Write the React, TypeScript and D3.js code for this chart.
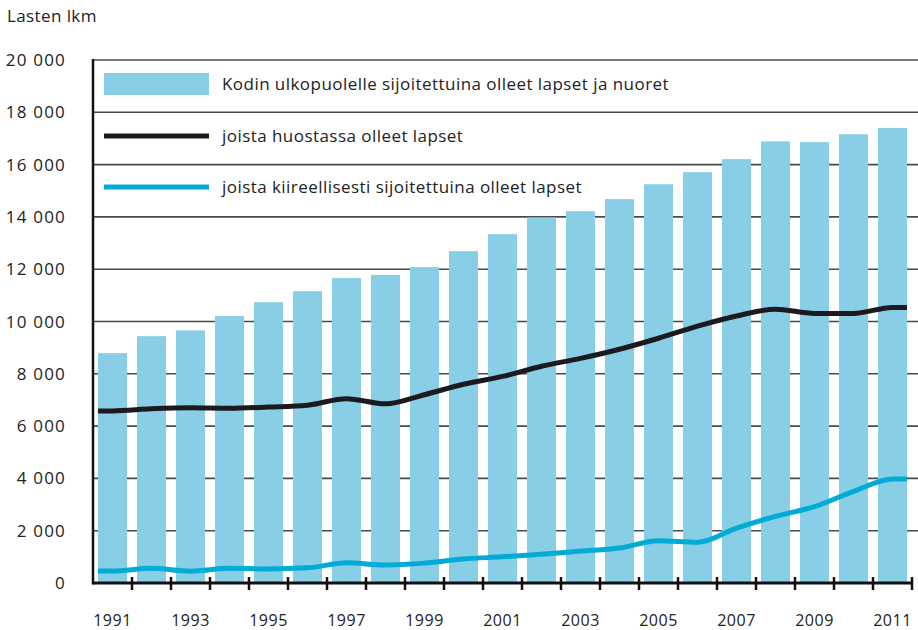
import { useEffect, useRef } from 'react';
import * as d3 from 'd3';

const years = d3.range(1991, 2012);
// Kodin ulkopuolelle sijoitettuina olleet lapset ja nuoret
const totals = [8790, 9440, 9660, 10210, 10740, 11160, 11660, 11780, 12080, 12690, 13340, 13980, 14220, 14680, 15250, 15710, 16210, 16890, 16860, 17160, 17400];
// joista huostassa olleet lapset
const custody = [6580, 6660, 6700, 6680, 6730, 6800, 7050, 6850, 7200, 7600, 7900, 8290, 8590, 8940, 9360, 9820, 10210, 10470, 10310, 10310, 10540];
// joista kiireellisesti sijoitettuina olleet lapset
const urgent = [460, 560, 450, 560, 540, 580, 770, 690, 760, 920, 1000, 1100, 1220, 1340, 1620, 1560, 2100, 2550, 2920, 3500, 3980];
const yTicks = d3.range(0, 20001, 2000);
const legendLabels = [
  'Kodin ulkopuolelle sijoitettuina olleet lapset ja nuoret',
  'joista huostassa olleet lapset',
  'joista kiireellisesti sijoitettuina olleet lapset',
];

const barColor = '#87cee6';
const custodyColor = '#1c1a1f';
const urgentColor = '#00acd6';
const font = '"Open Sans", sans-serif';

export default function App() {
  const ref = useRef<SVGSVGElement>(null);

  useEffect(() => {
    const svg = d3.select(ref.current);
    svg.selectAll('*').remove();

    const left = 93, right = 912, top = 60, bottom = 583;

    const x = d3.scaleBand<number>()
      .domain(years)
      .range([left, right])
      .paddingInner(10 / 39)
      .paddingOuter(5 / 39);
    const y = d3.scaleLinear().domain([0, 20000]).range([bottom, top]);
    const fmt = d3.formatLocale({ decimal: ',', thousands: ' ', grouping: [3], currency: ['', ''] }).format(',');

    const bw = x.bandwidth();
    const gap = x.step() - bw;

    // grid
    svg.append('g')
      .selectAll('line')
      .data(yTicks.filter(d => d > 0))
      .enter()
      .append('line')
      .attr('x1', left)
      .attr('x2', 918)
      .attr('y1', d => y(d))
      .attr('y2', d => y(d))
      .attr('stroke', '#4a4a4a')
      .attr('stroke-width', 1.6);

    // bars
    svg.append('g')
      .selectAll('rect')
      .data(years)
      .enter()
      .append('rect')
      .attr('x', d => x(d)!)
      .attr('width', bw)
      .attr('y', (d, i) => y(totals[i]))
      .attr('height', (d, i) => bottom - y(totals[i]))
      .attr('fill', barColor);

    // lines, stretched to the outer bar edges
    const drawLine = (vals: number[], color: string) => {
      const pts: [number, number][] = years.map((yr, i) => [x(yr)! + bw / 2, y(vals[i])]);
      pts.unshift([x(years[0])!, y(vals[0])]);
      pts.push([x(years[years.length - 1])! + bw, y(vals[vals.length - 1])]);
      svg.append('path')
        .attr('d', d3.line().curve(d3.curveMonotoneX)(pts)!)
        .attr('fill', 'none')
        .attr('stroke', color)
        .attr('stroke-width', 5)
        .attr('stroke-linejoin', 'round');
    };
    drawLine(custody, custodyColor);
    drawLine(urgent, urgentColor);

    // axes
    svg.append('line')
      .attr('x1', left).attr('x2', left)
      .attr('y1', top - 1).attr('y2', bottom + 1.5)
      .attr('stroke', '#111').attr('stroke-width', 2.5);
    svg.append('line')
      .attr('x1', left).attr('x2', right)
      .attr('y1', bottom).attr('y2', bottom)
      .attr('stroke', '#111').attr('stroke-width', 3);

    const tickX = years.slice(1).map(yr => x(yr)! - gap / 2).concat([right]);
    svg.append('g')
      .selectAll('line')
      .data(tickX)
      .enter()
      .append('line')
      .attr('x1', d => d).attr('x2', d => d)
      .attr('y1', bottom - 6).attr('y2', bottom + 7)
      .attr('stroke', '#111').attr('stroke-width', 2.5);

    svg.append('g')
      .selectAll('text')
      .data(yTicks)
      .enter()
      .append('text')
      .attr('x', 66)
      .attr('y', d => y(d) + 6)
      .attr('text-anchor', 'end')
      .attr('font-family', font)
      .attr('font-size', 17)
      .attr('letter-spacing', 1.2)
      .attr('fill', '#222')
      .text(d => fmt(d));

    svg.append('g')
      .selectAll('text')
      .data(years.filter(yr => yr % 2 === 1))
      .enter()
      .append('text')
      .attr('x', d => x(d)! + bw / 2)
      .attr('y', 626)
      .attr('text-anchor', 'middle')
      .attr('font-family', font)
      .attr('font-size', 16)
      .attr('letter-spacing', 0.5)
      .attr('fill', '#222')
      .text(d => d);

    svg.append('text')
      .attr('x', 7).attr('y', 22)
      .attr('font-family', font)
      .attr('font-size', 17)
      .attr('letter-spacing', 0.4)
      .attr('fill', '#222')
      .text('Lasten lkm');

    // legend
    const lg = svg.append('g');
    const rowY = [84, 136, 187];
    lg.append('rect')
      .attr('x', 104).attr('y', rowY[0] - 11)
      .attr('width', 105).attr('height', 22)
      .attr('fill', barColor);
    lg.append('line')
      .attr('x1', 104).attr('x2', 209)
      .attr('y1', rowY[1]).attr('y2', rowY[1])
      .attr('stroke', custodyColor).attr('stroke-width', 5);
    lg.append('line')
      .attr('x1', 104).attr('x2', 209)
      .attr('y1', rowY[2]).attr('y2', rowY[2])
      .attr('stroke', urgentColor).attr('stroke-width', 5);
    lg.selectAll('text')
      .data(legendLabels)
      .enter()
      .append('text')
      .attr('x', 222)
      .attr('y', (d, i) => rowY[i] + 6)
      .attr('font-family', font)
      .attr('font-size', 17)
      .attr('letter-spacing', 0.45)
      .attr('fill', '#222')
      .text(d => d);
  }, []);

  return (
    <svg ref={ref} width={918} height={630} style={{ position: 'absolute', left: 0, top: 0, background: '#fff' }} />
  );
}
